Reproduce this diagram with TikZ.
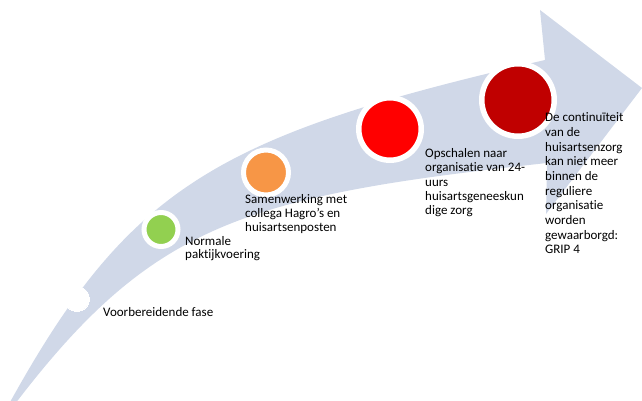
\documentclass[tikz,border=0pt]{standalone}
\usepackage{fontspec}
\setmainfont{Carlito}[Ligatures=NoCommon]
\definecolor{bandc}{RGB}{208,216,232}
\definecolor{greenc}{RGB}{146,208,80}
\definecolor{orangec}{RGB}{247,150,70}
\definecolor{redc}{RGB}{255,0,0}
\definecolor{darkredc}{RGB}{192,0,0}
\begin{document}
\begin{tikzpicture}[x=1pt,y=-1pt,
  milestone/.style={circle, draw=white, inner sep=0pt},
  lbl/.style={anchor=north west, inner sep=0pt, align=left, text=black}]
\useasboundingbox (0,0) rectangle (642,401);
% curved arrow band
\fill[bandc] (9,404) .. controls (130,185) and (219,135) .. (545,60)
  -- (540,10) -- (642,88) -- (546,214) -- (547,163)
  .. controls (246,196) and (153,223) .. (15,404) -- cycle;
% milestones
\node[milestone, fill=white, minimum size=25pt, line width=0pt] (m0) at (77,299) {};
\node[milestone, fill=greenc, minimum size=34pt, line width=5pt] (m1) at (161,229.5) {};
\node[milestone, fill=orangec, minimum size=45pt, line width=5pt] (m2) at (266,172.5) {};
\node[milestone, fill=redc, minimum size=62.5pt, line width=5.5pt] (m3) at (390,129) {};
\node[milestone, fill=darkredc, minimum size=72.5pt, line width=5.5pt] (m4) at (518,100) {};
% labels
\node[lbl, font=\fontsize{13}{14.3}\selectfont] (t0) at (103,307.3) {Voorbereidende fase};
\node[lbl, font=\fontsize{13}{13.8}\selectfont] (t1) at (185,235.8) {Normale\\paktijkvoering};
\node[lbl, font=\fontsize{13}{14}\selectfont] (t2) at (245,194.3) {Samenwerking met\\collega Hagro’s en\\huisartsenposten};
\node[lbl, font=\fontsize{13}{14.2}\selectfont] (t3) at (425,148.5) {Opschalen naar\\organisatie van 24-\\uurs\\huisartsgeneeskun\\dige zorg};
\node[lbl, font=\fontsize{13}{14.7}\selectfont] (t4) at (545,112.5) {De continuïteit\\van de\\huisartsenzorg\\kan niet meer\\binnen de\\reguliere\\organisatie\\worden\\gewaarborgd:\\GRIP 4};
\end{tikzpicture}
\end{document}
